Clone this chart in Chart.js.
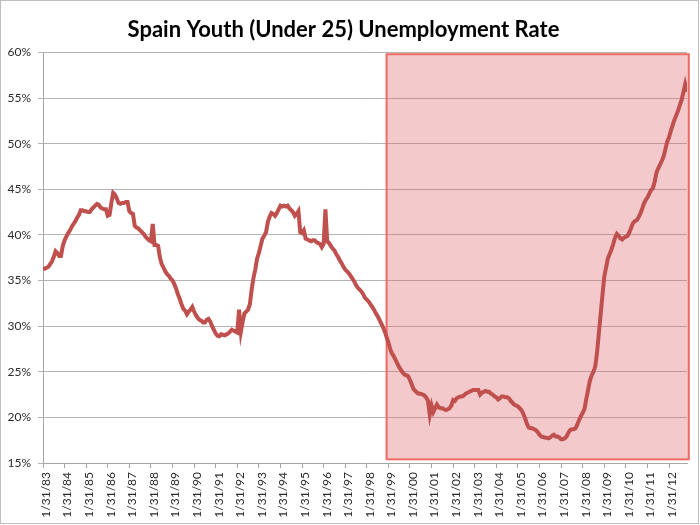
<!DOCTYPE html>
<html>
<head>
<meta charset="utf-8">
<script src="https://cdn.jsdelivr.net/npm/chart.js@4"></script>
<style>
  body { margin: 0; background: #fff; }
  #wrap { position: relative; width: 700px; height: 525px; }
  #frame { position: absolute; left: 0; top: 0; width: 697px; height: 522px; border: 1px solid #bdbdbd; pointer-events: none; }
</style>
</head>
<body>
<div id="wrap">
  <canvas id="chart"></canvas>
  <div id="frame"></div>
</div>
<script>
// monthly youth unemployment rate (%), starting Jan 1983
const rates80s = [
    36.3, 36.3, 36.4, 36.5, 36.8, 37.1, 37.6, 38.2, 38.0, 37.7, 37.7, 38.8,
    39.4, 39.8, 40.2, 40.5, 40.9, 41.2, 41.5, 41.9, 42.2, 42.7, 42.7, 42.6,
    42.6, 42.5, 42.5, 42.8, 43.0, 43.2, 43.4, 43.3, 43.0, 42.9, 42.8, 42.8,
    42.1, 42.2, 43.5, 44.6, 44.4, 44.0, 43.5, 43.4, 43.5, 43.5, 43.6, 43.6,
    42.6, 42.4, 42.3, 41.0, 40.8, 40.7, 40.5, 40.3, 40.1, 39.8, 39.6, 39.4,
    39.3, 41.2, 38.9, 38.9, 38.8, 37.5, 36.8, 36.4, 36.0, 35.7, 35.5, 35.2,
    35.0, 34.6, 34.1, 33.5, 33.0, 32.4, 31.9, 31.7, 31.3, 31.6, 31.8, 32.1
];
const rates90s = [
    31.6, 31.2, 30.9, 30.7, 30.6, 30.4, 30.4, 30.7, 30.8, 30.5, 30.0, 29.6,
    29.2, 28.95, 28.9, 29.1, 29.05, 29.0, 29.1, 29.2, 29.4, 29.6, 29.5, 29.4,
    29.3, 31.8, 29.4, 30.5, 31.4, 31.6, 31.8, 32.4, 34.0, 35.3, 36.2, 37.4,
    38.0, 38.8, 39.6, 39.9, 40.3, 41.4, 42.0, 42.4, 42.3, 42.1, 42.4, 42.8,
    43.2, 43.1, 43.2, 43.1, 43.2, 42.9, 42.7, 42.5, 42.1, 42.3, 42.6, 40.3,
    40.2, 40.5, 39.6, 39.5, 39.4, 39.3, 39.4, 39.4, 39.2, 39.1, 39.0, 38.65,
    39.0, 42.8, 39.3, 39.1, 38.8, 38.5, 38.3, 37.9, 37.6, 37.2, 36.9, 36.5,
    36.2, 36.0, 35.8, 35.5, 35.2, 34.9, 34.5, 34.2, 34.0, 33.8, 33.5, 33.1,
    32.9, 32.7, 32.4, 32.1, 31.8, 31.4, 31.1, 30.7, 30.3, 29.9, 29.4, 28.8,
    28.2, 27.5, 27.0, 26.7, 26.3, 25.9, 25.5, 25.2, 24.9, 24.7, 24.6, 24.5
];
const rates00s = [
    24.1, 23.6, 23.1, 22.9, 22.7, 22.6, 22.6, 22.5, 22.4, 22.2, 21.8, 20.3,
    21.3, 20.6, 21.0, 21.4, 21.1, 21.0, 21.0, 20.9, 20.8, 20.9, 21.0, 21.3,
    21.9, 21.8, 22.1, 22.2, 22.3, 22.3, 22.4, 22.6, 22.7, 22.8, 22.9, 23.0,
    23.0, 23.0, 23.0, 22.5, 22.7, 22.8, 22.9, 22.8, 22.8, 22.6, 22.5, 22.3,
    22.2, 21.95, 22.1, 22.3, 22.3, 22.2, 22.2, 22.1, 21.8, 21.6, 21.4, 21.3,
    21.2, 21.0, 20.8, 20.4, 19.9, 19.3, 18.9, 18.8, 18.8, 18.7, 18.6, 18.4,
    18.1, 17.9, 17.85, 17.8, 17.75, 17.7, 17.8, 18.0, 18.1, 17.9, 17.9, 17.8,
    17.6, 17.6, 17.7, 17.9, 18.3, 18.6, 18.7, 18.7, 18.8, 19.2, 19.7, 20.1,
    20.5, 20.9, 22.0, 23.0, 24.0, 24.6, 25.0, 25.6, 27.1, 29.2, 31.3, 33.4,
    35.4, 36.4, 37.4, 37.9, 38.4, 39.0, 39.7, 40.1, 39.9, 39.6, 39.5, 39.7
];
const rates10s = [
    39.8, 39.9, 40.3, 40.8, 41.3, 41.5, 41.6, 41.9, 42.3, 42.8, 43.4, 43.8,
    44.1, 44.5, 44.9, 45.1, 45.8, 46.8, 47.3, 47.7, 48.1, 48.6, 49.4, 50.2,
    50.7, 51.4, 52.0, 52.6, 53.1, 53.6, 54.2, 54.8, 55.6, 56.5, 55.7
];

const yearLabels = [
    '1/31/83', '1/31/84', '1/31/85', '1/31/86', '1/31/87', '1/31/88', '1/31/89',
    '1/31/90', '1/31/91', '1/31/92', '1/31/93', '1/31/94', '1/31/95', '1/31/96',
    '1/31/97', '1/31/98', '1/31/99', '1/31/00', '1/31/01', '1/31/02', '1/31/03',
    '1/31/04', '1/31/05', '1/31/06', '1/31/07', '1/31/08', '1/31/09', '1/31/10',
    '1/31/11', '1/31/12'
];

// shaded period: from Jan 1999 (month index 192) to the end
const shadeFrom = 191;
const shadeTo = 359;

const rates = rates80s.concat(rates90s, rates00s, rates10s);
const points = rates.map((v, i) => ({ x: i, y: v }));

const shadePlugin = {
    id: 'shade',
    beforeDatasetsDraw(chart) {
        const { ctx, scales: { x, y } } = chart;
        const left = x.getPixelForValue(shadeFrom);
        const right = x.getPixelForValue(shadeTo);
        const top = y.getPixelForValue(59.8);
        const bottom = y.getPixelForValue(15.4);
        ctx.save();
        ctx.fillStyle = 'rgba(222, 100, 105, 0.35)';
        ctx.fillRect(left, top, right - left, bottom - top);
        ctx.strokeStyle = '#ee6a64';
        ctx.lineWidth = 2;
        ctx.strokeRect(left, top, right - left, bottom - top);
        ctx.restore();
    }
};

const tickFont = { family: 'Lato', size: 12 };

new Chart(document.getElementById('chart'), {
    type: 'line',
    data: {
        datasets: [{
            data: points,
            borderColor: '#c0504d',
            borderWidth: 4,
            pointRadius: 0,
            tension: 0,
            fill: false
        }]
    },
    options: {
        responsive: true,
        maintainAspectRatio: false,
        animation: false,
        layout: { padding: { right: 13, left: 0, bottom: 0 } },
        plugins: {
            legend: { display: false },
            tooltip: { enabled: false },
            title: {
                display: true,
                text: 'Spain Youth (Under 25) Unemployment Rate',
                color: '#000',
                font: { family: 'Lato', size: 22, weight: 'bold' },
                lineHeight: 1.2,
                padding: { top: 17, bottom: 9 }
            }
        },
        scales: {
            x: {
                type: 'linear',
                min: 0,
                max: rates.length - 1,
                afterBuildTicks: axis => {
                    axis.ticks = axis.ticks.filter(t => t.value % 12 === 0);
                },
                afterFit: s => { s.height = 62; },
                ticks: {
                    stepSize: 12,
                    autoSkip: false,
                    minRotation: 90,
                    maxRotation: 90,
                    padding: 4,
                    labelOffset: 3,
                    color: '#2b2b2b',
                    font: tickFont,
                    callback: v => yearLabels[v / 12]
                },
                grid: { drawOnChartArea: false, tickLength: 5, color: '#a6a6a6' },
                border: { color: '#a6a6a6' }
            },
            y: {
                min: 15,
                max: 60,
                afterFit: s => { s.width = 43; },
                ticks: {
                    stepSize: 5,
                    padding: 7,
                    color: '#2b2b2b',
                    font: tickFont,
                    callback: v => v + '%'
                },
                grid: { color: '#b4b4b4', tickLength: 5 },
                border: { color: '#a6a6a6' }
            }
        }
    },
    plugins: [shadePlugin]
});
</script>
</body>
</html>
